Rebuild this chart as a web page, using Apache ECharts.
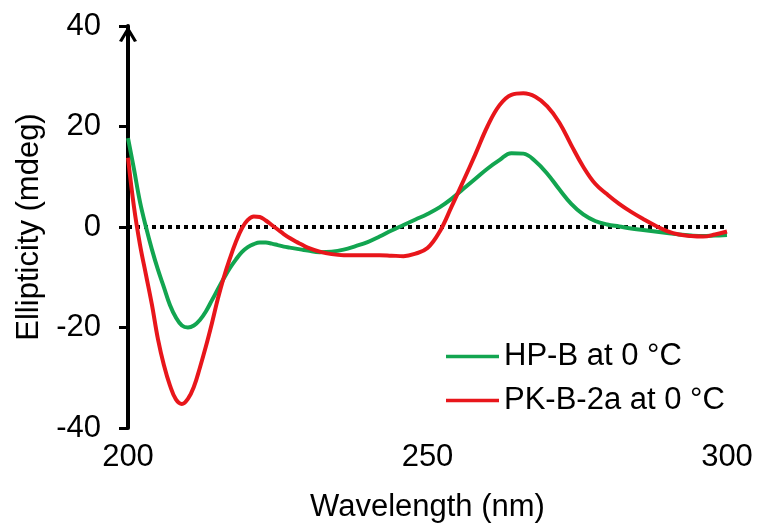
<!DOCTYPE html>
<html>
<head>
<meta charset="utf-8">
<script src="https://cdn.jsdelivr.net/npm/echarts@6/dist/echarts.min.js"></script>
<style>
  html, body { margin: 0; padding: 0; background: #fff; }
  #chart { width: 761px; height: 530px; }
</style>
</head>
<body>
<div id="chart"></div>
<script>
// CD spectra: wavelength (nm) vs ellipticity (mdeg)
const wavelengths = [
  200, 201, 202, 203, 204, 205, 206, 207, 208, 209,
  210, 211, 212, 213, 214, 215, 216, 217, 218, 219,
  220, 221, 222, 223, 224, 225, 226, 227, 228, 229,
  230, 232, 234, 236, 238, 240, 242, 244, 246, 248,
  250, 252, 254, 256, 258, 260, 262, 264, 266, 268,
  270, 272, 274, 276, 278, 280, 282, 284, 286, 288,
  290, 292, 294, 296, 298, 300
];

const hpB = [
  17.7, 11.5, 5.0, 0.0, -4.5, -8.5, -12.0, -15.5, -18.0, -19.6,
  -20.0, -19.6, -18.5, -16.8, -14.6, -12.4, -10.2, -8.2, -6.5, -5.0,
  -4.0, -3.4, -3.1, -3.1, -3.3, -3.6, -3.9, -4.1, -4.3, -4.5,
  -4.7, -5.0, -4.9, -4.5, -3.8, -3.0, -1.9, -0.7, 0.4, 1.5,
  2.6, 3.9, 5.6, 7.6, 9.6, 11.6, 13.3, 14.7, 14.6, 13.1,
  10.6, 7.5, 4.6, 2.5, 1.2, 0.5, 0.1, -0.3, -0.6, -0.9,
  -1.2, -1.5, -1.7, -1.8, -1.7, -1.6
];

const pkB2a = [
  13.8, 4.0, -3.5, -9.5, -15.5, -22.3, -27.5, -31.5, -34.3, -35.2,
  -34.2, -31.8, -28.0, -23.8, -19.2, -14.3, -10.0, -6.3, -3.0, -0.3,
  1.4, 2.1, 2.0, 1.3, 0.4, -0.5, -1.4, -2.2, -2.9, -3.5,
  -4.1, -4.9, -5.4, -5.6, -5.6, -5.6, -5.6, -5.7, -5.8, -5.3,
  -4.2, -1.0, 4.0, 9.2, 14.5, 20.0, 24.2, 26.3, 26.6, 25.9,
  24.0, 20.8, 16.3, 12.0, 8.6, 6.5, 4.6, 3.0, 1.6, 0.3,
  -0.8, -1.5, -1.8, -1.9, -1.5, -0.9
];

const seriesNames = ['HP-B at 0 \u00B0C', 'PK-B-2a at 0 \u00B0C'];
const xTicks = [200, 250, 300];
const yTicks = [-40, -20, 0, 20, 40];

const FONT = 'Liberation Sans, Arial, sans-serif';

function pairs(xs, ys) {
  return xs.map((x, i) => [x, ys[i]]);
}

const chart = echarts.init(document.getElementById('chart'), null, { renderer: 'canvas' });

chart.setOption({
  animation: false,
  backgroundColor: '#ffffff',
  textStyle: { fontFamily: FONT, color: '#000' },
  grid: { left: 128, right: 34, top: 26, bottom: 102, containLabel: false },
  legend: {
    orient: 'vertical',
    left: 441,
    top: 336,
    icon: 'rect',
    itemWidth: 53,
    itemHeight: 3.5,
    itemGap: 13,
    textStyle: { fontFamily: FONT, fontSize: 31, color: '#000' },
    data: seriesNames
  },
  xAxis: {
    type: 'value',
    min: xTicks[0],
    max: xTicks[xTicks.length - 1],
    interval: 50,
    axisLine: { show: false, onZero: false },
    axisTick: { show: false },
    splitLine: { show: false },
    axisLabel: {
      margin: 14,
      fontSize: 31,
      fontFamily: FONT,
      color: '#000'
    },
    name: 'Wavelength (nm)',
    nameLocation: 'middle',
    nameGap: 64,
    nameTextStyle: { fontSize: 31, fontFamily: FONT, color: '#000' }
  },
  yAxis: {
    type: 'value',
    min: yTicks[0],
    max: yTicks[yTicks.length - 1],
    interval: 20,
    axisLine: {
      show: true,
      onZero: false,
      lineStyle: { color: '#000', width: 4 },
      symbol: ['none', 'path://M0,15 L9,0 L18,15 L15,16 L9,6 L3,16 Z'],
      symbolSize: [18, 16],
      symbolOffset: [0, -8]
    },
    axisTick: {
      show: true,
      inside: false,
      length: 9,
      lineStyle: { color: '#000', width: 3 }
    },
    splitLine: { show: false },
    axisLabel: {
      margin: 27,
      fontSize: 31,
      fontFamily: FONT,
      color: '#000'
    },
    name: 'Ellipticity (mdeg)',
    nameLocation: 'middle',
    nameGap: 83,
    nameTextStyle: { fontSize: 31, fontFamily: FONT, color: '#000' }
  },
  series: [
    {
      name: seriesNames[0],
      type: 'line',
      data: pairs(wavelengths, hpB),
      smooth: 0.4,
      symbol: 'none',
      showSymbol: false,
      z: 3,
      lineStyle: { color: '#12A550', width: 4 },
      itemStyle: { color: '#12A550' },
      markLine: {
        silent: true,
        z: 1,
        symbol: ['none', 'none'],
        label: { show: false },
        lineStyle: { color: '#000', type: [4, 4], width: 4, cap: 'butt' },
        emphasis: { disabled: true },
        data: [{ yAxis: 0 }]
      }
    },
    {
      name: seriesNames[1],
      type: 'line',
      data: pairs(wavelengths, pkB2a),
      smooth: 0.4,
      symbol: 'none',
      showSymbol: false,
      z: 4,
      lineStyle: { color: '#E8161B', width: 4 },
      itemStyle: { color: '#E8161B' }
    }
  ]
});
</script>
</body>
</html>
